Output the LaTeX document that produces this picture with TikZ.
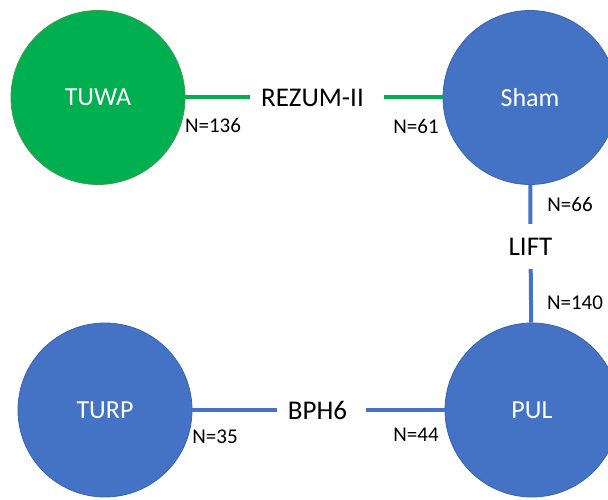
\documentclass[tikz,border=0pt]{standalone}
\usepackage{fontspec}
\setmainfont{Carlito}
\definecolor{offgreen}{HTML}{00B050}
\definecolor{offblue}{HTML}{4472C4}
\definecolor{blueedge}{HTML}{3A63AE}
\definecolor{greenedge}{HTML}{3F9A4A}
\tikzset{
  arm/.style={circle, minimum size=174pt, inner sep=0pt, text=white, font=\fontsize{26}{30}\selectfont, line width=0.8pt},
  greenarm/.style={arm, fill=offgreen, draw=greenedge},
  bluearm/.style={arm, fill=offblue, draw=blueedge},
  trial/.style={inner sep=0pt, font=\fontsize{27}{31}\selectfont, text=black},
  nlab/.style={inner sep=0pt, font=\fontsize{21}{25}\selectfont, text=black},
  greenline/.style={draw=offgreen, line width=4pt},
  blueline/.style={draw=offblue, line width=4pt}
}
\begin{document}
\begin{tikzpicture}[x=1pt,y=-1pt]
\useasboundingbox (0,0) rectangle (608,500);
\clip (0,0) rectangle (608,500);
\node[greenarm] (TUWA) at (98,97.5) {TUWA};
\node[bluearm] (Sham) at (530,97.5) {Sham};
\node[bluearm] (TURP) at (105,410) {TURP};
\node[bluearm] (PUL) at (532,410) {PUL};
\node[trial, minimum width=134pt] (rez) at (317,97.5) {\hspace*{-9pt}REZUM-II};
\node[trial, minimum height=45pt] (lift) at (530.5,246.5) {LIFT};
\node[trial, minimum width=89pt] (bph) at (321.5,410) {\hspace*{-8pt}BPH6};
\draw[greenline] (TUWA) -- (rez);
\draw[greenline] (rez) -- (Sham);
\draw[blueline] (Sham) -- (lift);
\draw[blueline] (lift) -- (PUL);
\draw[blueline] (TURP) -- (bph);
\draw[blueline] (bph) -- (PUL);
\node[nlab] (n136) at (213,125) {N=136};
\node[nlab] (n61) at (416,126) {N=61};
\node[nlab] (n66) at (570,204) {N=66};
\node[nlab] (n140) at (575,303) {N=140};
\node[nlab] (n35) at (215,437) {N=35};
\node[nlab] (n44) at (416,435) {N=44};
\end{tikzpicture}
\end{document}
